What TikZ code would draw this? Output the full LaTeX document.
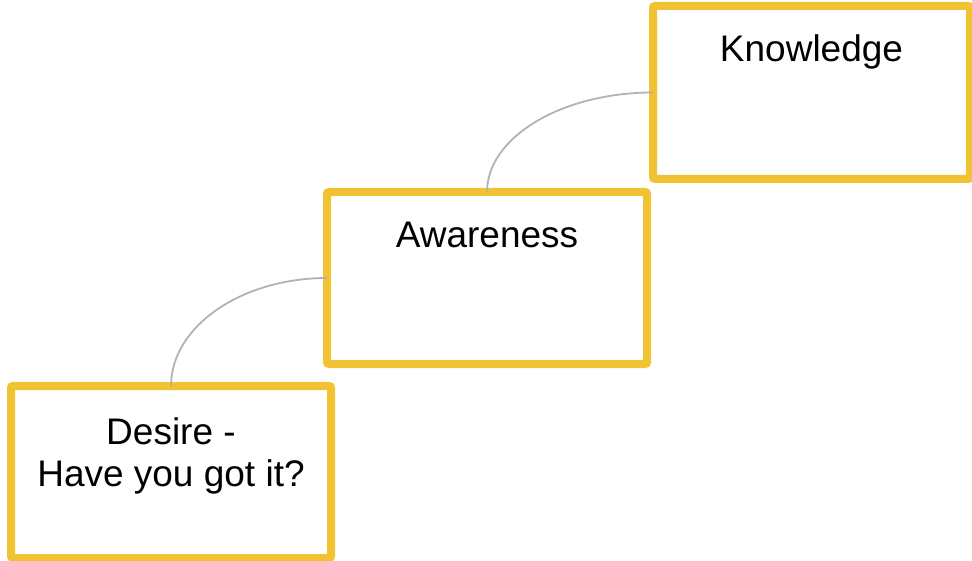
\documentclass[tikz,border=0pt]{standalone}
\usepackage{fontspec}
\setmainfont{Liberation Sans}
\usetikzlibrary{calc}
\definecolor{boxyellow}{RGB}{241,194,50}
\definecolor{conngray}{RGB}{178,178,178}
\begin{document}
\begin{tikzpicture}[x=1pt,y=-1pt,
  stepbox/.style={draw=boxyellow, line width=8pt, fill=white, rounded corners=2pt,
    minimum width=320pt, minimum height=172pt, inner sep=0pt, outer sep=0pt},
  lbl/.style={font=\fontsize{37}{42}\selectfont, align=center, anchor=north, inner sep=0pt},
  conn/.style={draw=conngray, line width=1.8pt}]
\useasboundingbox (0,0) rectangle (972,561);
\node[stepbox, minimum width=317pt, minimum height=173pt] (k) at (811.5,92.5) {};
\node[stepbox] (a) at (487,278) {};
\node[stepbox] (d) at (171,472) {};
\node[lbl] (kt) at ([yshift=-28pt]k.north) {Knowledge};
\node[lbl] (at) at ([yshift=-30pt]a.north) {Awareness};
\node[lbl] (dt) at ([yshift=-31pt]d.north) {Desire -\\Have you got it?};
\draw[conn] (d.north) .. controls ($(d.north)!0.55!(d.north |- a.west)$) and ($(a.west)!0.55!(d.north |- a.west)$) .. (a.west);
\draw[conn] (a.north) .. controls ($(a.north)!0.55!(a.north |- k.west)$) and ($(k.west)!0.55!(a.north |- k.west)$) .. (k.west);
\end{tikzpicture}
\end{document}
